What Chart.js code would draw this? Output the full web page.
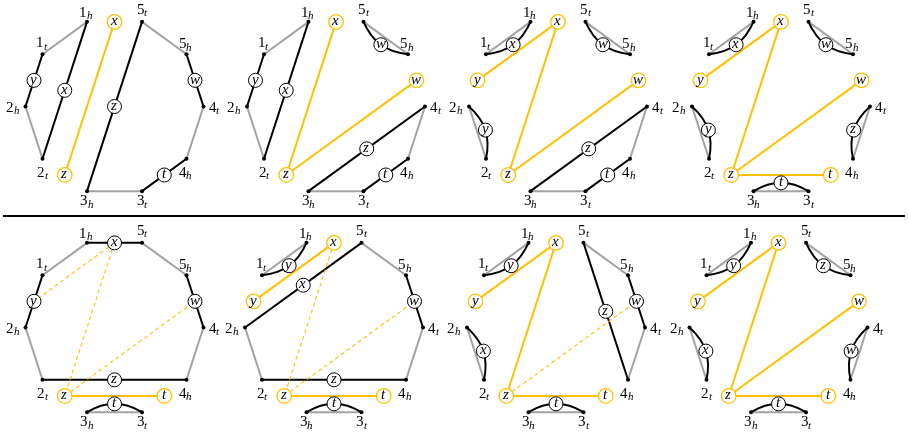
<!DOCTYPE html>
<html>
<head>
<meta charset="utf-8">
<script src="https://cdn.jsdelivr.net/npm/chart.js@4.4.1/dist/chart.umd.min.js"></script>
<style>
@font-face { font-family: 'DiagramSerif'; font-style: normal; font-weight: 400;
  src: local('Liberation Serif'), local('LiberationSerif'), local('LiberationSerif-Regular'), local('DejaVu Serif'), local('DejaVuSerif'); }
@font-face { font-family: 'DiagramSerif'; font-style: italic; font-weight: 400;
  src: local('Liberation Serif Italic'), local('LiberationSerif-Italic'), local('DejaVu Serif Italic'), local('DejaVuSerif-Italic'); }
html,body{margin:0;padding:0;background:#ffffff;overflow:hidden}
canvas{display:block}
#fontprobe{position:absolute;left:-1000px;top:0;font-family:'DiagramSerif','Liberation Serif',serif}
</style>
</head>
<body>
<div id="fontprobe">1h <i>xyzwt</i></div>
<canvas id="chart" width="908" height="434"></canvas>
<script>
// ---------------- data ----------------
const vertexNames  = ['1h','1t','2h','2t','3h','3t','4h','4t','5h','5t'];
const vertexAngles = [108, 144, 180, 216, 252, 288, 324, 0, 36, 72];
const slotNames = ['x','y','z','t','w'];
const slotEnds  = [['1h','5t'],['1t','2h'],['2t','3h'],['3t','4h'],['4t','5h']];
const elementPairs = [['1t','1h'],['2h','2t'],['3h','3t'],['4t','4h'],['5t','5h']];

const panelStraight = [
  [['1h','2t','x'],['1t','2h','y'],['5t','3h','z'],['5h','4t','w'],['3t','4h','t']],
  [['1t','2h','y'],['1h','2t','x'],['3h','4t','z'],['3t','4h','t']],
  [['3h','4t','z'],['3t','4h','t']],
  [],
  [['1h','5t','x'],['5h','4t','w'],['4h','2t','z'],['2h','1t','y']],
  [['2h','5t','x'],['5h','4t','w'],['4h','2t','z']],
  [['5h','4t','w'],['5t','4h','z']],
  []
];
const panelCurves = [
  [],
  [['5t','5h','w']],
  [['1t','1h','x'],['2h','2t','y'],['5t','5h','w']],
  [['1t','1h','x'],['2h','2t','y'],['5t','5h','w'],['4t','4h','z'],['3h','3t','t']],
  [['3h','3t','t']],
  [['1t','1h','y'],['3h','3t','t']],
  [['1t','1h','y'],['2h','2t','x'],['3h','3t','t']],
  [['1t','1h','y'],['5t','5h','z'],['2h','2t','x'],['4t','4h','w'],['3h','3t','t']]
];
const panelYellowNodes = [
  ['x','z'], ['x','z','w'], ['x','y','z','w'], ['x','y','z','w','t'],
  ['z','t'], ['x','y','z','t'], ['x','y','z','t'], ['x','y','z','w','t']
];
const panelYellowLinks = [
  [['x','z']],
  [['z','x'],['z','w']],
  [['y','x'],['x','z'],['z','w']],
  [['y','x'],['x','z'],['z','w'],['z','t']],
  [['z','t']],
  [['y','x'],['z','t']],
  [['y','x'],['x','z'],['z','t']],
  [['y','x'],['x','z'],['z','w'],['z','t']]
];
const panelDashLinks = [
  [], [], [], [],
  [['x','y'],['x','z'],['z','w']],
  [['x','z'],['z','w']],
  [['z','w']],
  []
];

// ---------------- layout & style ----------------
const layout = {
  width: 908, height: 434,
  centersX: [[114.5, 336, 558, 781], [114.5, 334, 556, 778.5]],
  centersY: [106.5, 327.5],
  radius: 89,
  bulge: 8.3,
  bendAngle: 30,
  separatorY: 216,
  separatorX: [3, 905],
  // [dx, baseline dy, align]
  labelOffsets: {
    '1h': [-1, -5, 'center'], '1t': [-1, -7, 'center'],
    '5t': [0, -8, 'center'],  '5h': [-1, -6, 'center'],
    '2h': [-6, 5, 'right'],   '4t': [5, 5, 'left'],
    '2t': [0, 18, 'center'],  '4h': [-1, 18, 'center'],
    '3h': [0, 14, 'center'],  '3t': [0, 14, 'center']
  }
};
const style = {
  gray: '#a2a2a2', black: '#000000', yellow: '#ffc000',
  lineW: 2, dashW: 1.1, dash: [4, 3], tension: 0.4,
  circleR: 7, yCircleR: 7.3, dotR: 2,
  mainFont: '15px DiagramSerif, "Liberation Serif", "Times New Roman", serif',
  subFont: 'italic 11px DiagramSerif, "Liberation Serif", "Times New Roman", serif',
  subDrop: 2.5, subGap: -0.3,
  letterFont: 'italic 15px DiagramSerif, "Liberation Serif", "Times New Roman", serif'
};

// ---------------- build ----------------
const mid = (a, b) => ({ x: (a.x + b.x) / 2, y: (a.y + b.y) / 2 });
function panelGeom(p) {
  const row = Math.floor(p / 4), col = p % 4;
  const cx = layout.centersX[row][col], cy = layout.centersY[row];
  const V = {};
  vertexNames.forEach((n, i) => {
    const a = vertexAngles[i] * Math.PI / 180;
    V[n] = { x: cx + layout.radius * Math.cos(a), y: cy - layout.radius * Math.sin(a) };
  });
  return { cx, cy, V };
}

const datasets = [];
const blackCircles = [], yellowCircles = [], dots = [];
const circleTexts = [], vertexTexts = [];
const curveDatasetIdx = [];

function addLine(points, color, width, order, extra) {
  datasets.push(Object.assign({
    type: 'line',
    data: points.map(p => ({ x: p.x, y: p.y })),
    borderColor: color, borderWidth: width,
    pointRadius: 0, pointHoverRadius: 0, pointHitRadius: 0,
    tension: 0, fill: false, order: order,
    borderCapStyle: 'round', borderJoinStyle: 'round'
  }, extra || {}));
  return datasets.length - 1;
}

// separator
addLine([{ x: layout.separatorX[0], y: layout.separatorY }, { x: layout.separatorX[1], y: layout.separatorY }],
  style.black, 2, 6, { borderCapStyle: 'butt' });

for (let p = 0; p < 8; p++) {
  const { cx, cy, V } = panelGeom(p);
  const slotPos = {};
  slotNames.forEach((s, i) => { slotPos[s] = mid(V[slotEnds[i][0]], V[slotEnds[i][1]]); });

  elementPairs.forEach(([a, b]) => addLine([V[a], V[b]], style.gray, style.lineW, 7));

  const blackLabelPos = {};
  panelStraight[p].forEach(([a, b, l]) => {
    addLine([V[a], V[b]], style.black, style.lineW, 6);
    const m = mid(V[a], V[b]);
    blackLabelPos[l] = m;
    blackCircles.push(m);
    circleTexts.push({ x: m.x, y: m.y, t: l });
  });
  panelCurves[p].forEach(([a, b, l]) => {
    const m = mid(V[a], V[b]);
    const dx = cx - m.x, dy = cy - m.y, d = Math.hypot(dx, dy);
    const c = { x: m.x + layout.bulge * dx / d, y: m.y + layout.bulge * dy / d };
    curveDatasetIdx.push(addLine([V[a], c, V[b]], style.black, style.lineW, 6, { tension: style.tension }));
    blackCircles.push(c);
    circleTexts.push({ x: c.x, y: c.y, t: l });
  });

  const yellowPos = {};
  panelYellowNodes[p].forEach(s => {
    yellowPos[s] = slotPos[s];
    yellowCircles.push(slotPos[s]);
    circleTexts.push({ x: slotPos[s].x, y: slotPos[s].y, t: s });
  });
  panelYellowLinks[p].forEach(([a, b]) => addLine([yellowPos[a], yellowPos[b]], style.yellow, style.lineW, 5));
  panelDashLinks[p].forEach(([a, b]) => {
    const pa = yellowPos[a] || blackLabelPos[a], pb = yellowPos[b] || blackLabelPos[b];
    addLine([pa, pb], style.yellow, style.dashW, 5, { borderDash: style.dash, borderCapStyle: 'butt' });
  });

  vertexNames.forEach(n => {
    dots.push(V[n]);
    vertexTexts.push({ x: V[n].x, y: V[n].y, name: n });
  });
}

datasets.push({
  type: 'scatter', data: dots.map(p => ({ x: p.x, y: p.y })),
  pointRadius: style.dotR, pointHoverRadius: style.dotR, pointBackgroundColor: '#000',
  pointBorderWidth: 0, showLine: false, order: 4
});
datasets.push({
  type: 'scatter', data: yellowCircles.map(p => ({ x: p.x, y: p.y })),
  pointRadius: style.yCircleR, pointHoverRadius: style.yCircleR, pointBackgroundColor: '#ffffff',
  pointBorderColor: style.yellow, pointBorderWidth: 1.3, pointHoverBorderWidth: 1.3, showLine: false, order: 3
});
datasets.push({
  type: 'scatter', data: blackCircles.map(p => ({ x: p.x, y: p.y })),
  pointRadius: style.circleR, pointHoverRadius: style.circleR, pointBackgroundColor: '#ffffff',
  pointBorderColor: '#000000', pointBorderWidth: 1, pointHoverBorderWidth: 1, showLine: false, order: 2
});

// Turn the 3-point curve datasets into "bend" arcs (end angle = bendAngle),
// by setting the bezier control points of the library's own point elements.
const bendPlugin = {
  id: 'bendCurves',
  beforeDatasetsDraw(chart) {
    const ang = layout.bendAngle * Math.PI / 180;
    curveDatasetIdx.forEach(i => {
      const meta = chart.getDatasetMeta(i);
      const line = meta.dataset;
      if (line && typeof line.updateControlPoints === 'function') {
        line.updateControlPoints(chart.chartArea, 'x');
      }
      const pts = meta.data;
      if (!pts || pts.length !== 3) return;
      const A = pts[0], M = pts[1], B = pts[2];
      const ex = B.x - A.x, ey = B.y - A.y, L = Math.hypot(ex, ey);
      const ux = ex / L, uy = ey / L;
      const mx = (A.x + B.x) / 2, my = (A.y + B.y) / 2;
      let nx = -uy, ny = ux;
      if ((M.x - mx) * nx + (M.y - my) * ny < 0) { nx = -nx; ny = -ny; }
      const h = Math.hypot(M.x - mx, M.y - my);
      const c = h / (0.75 * Math.sin(ang));
      const P1 = { x: A.x + c * (Math.cos(ang) * ux + Math.sin(ang) * nx), y: A.y + c * (Math.cos(ang) * uy + Math.sin(ang) * ny) };
      const P2 = { x: B.x + c * (-Math.cos(ang) * ux + Math.sin(ang) * nx), y: B.y + c * (-Math.cos(ang) * uy + Math.sin(ang) * ny) };
      A.cp2x = (A.x + P1.x) / 2; A.cp2y = (A.y + P1.y) / 2;
      M.cp1x = (A.x + 2 * P1.x + P2.x) / 4; M.cp1y = (A.y + 2 * P1.y + P2.y) / 4;
      M.cp2x = (P1.x + 2 * P2.x + B.x) / 4; M.cp2y = (P1.y + 2 * P2.y + B.y) / 4;
      B.cp1x = (P2.x + B.x) / 2; B.cp1y = (P2.y + B.y) / 2;
      A.cp1x = A.x; A.cp1y = A.y; B.cp2x = B.x; B.cp2y = B.y;
      if (line) line._path = undefined;
    });
  }
};

const textPlugin = {
  id: 'diagramTexts',
  afterDatasetsDraw(chart) {
    const ctx = chart.ctx, xs = chart.scales.x, ys = chart.scales.y;
    ctx.save();
    ctx.fillStyle = '#000';
    ctx.textBaseline = 'alphabetic';
    ctx.font = style.letterFont;
    ctx.textAlign = 'center';
    circleTexts.forEach(c => {
      const px = xs.getPixelForValue(c.x), py = ys.getPixelForValue(c.y);
      ctx.fillText(c.t, px - 0.3, py + 3.3);
    });
    ctx.textAlign = 'left';
    vertexTexts.forEach(v => {
      const px = xs.getPixelForValue(v.x), py = ys.getPixelForValue(v.y);
      const [dx, dy, align] = layout.labelOffsets[v.name];
      const main = v.name[0], sub = v.name[1];
      ctx.font = style.mainFont; const w1 = ctx.measureText(main).width;
      ctx.font = style.subFont; const w2 = ctx.measureText(sub).width;
      const total = w1 + w2 + style.subGap;
      let left = px + dx;
      if (align === 'center') left -= total / 2;
      else if (align === 'right') left -= total;
      ctx.font = style.mainFont; ctx.fillText(main, left, py + dy);
      ctx.font = style.subFont; ctx.fillText(sub, left + w1 + style.subGap, py + dy + style.subDrop);
    });
    ctx.restore();
  }
};

const chart = new Chart(document.getElementById('chart').getContext('2d'), {
  type: 'scatter',
  data: { datasets },
  options: {
    responsive: false, animation: false, events: [],
    layout: { padding: 0, autoPadding: false },
    plugins: { legend: { display: false }, tooltip: { enabled: false } },
    scales: {
      x: { type: 'linear', min: 0, max: layout.width, display: false },
      y: { type: 'linear', min: 0, max: layout.height, reverse: true, display: false }
    }
  },
  plugins: [bendPlugin, textPlugin]
});

if (document.fonts && document.fonts.load) {
  Promise.all([
    document.fonts.load('15px DiagramSerif'),
    document.fonts.load('italic 15px DiagramSerif')
  ]).then(() => chart.update('none')).catch(() => {});
}
</script>
</body>
</html>
